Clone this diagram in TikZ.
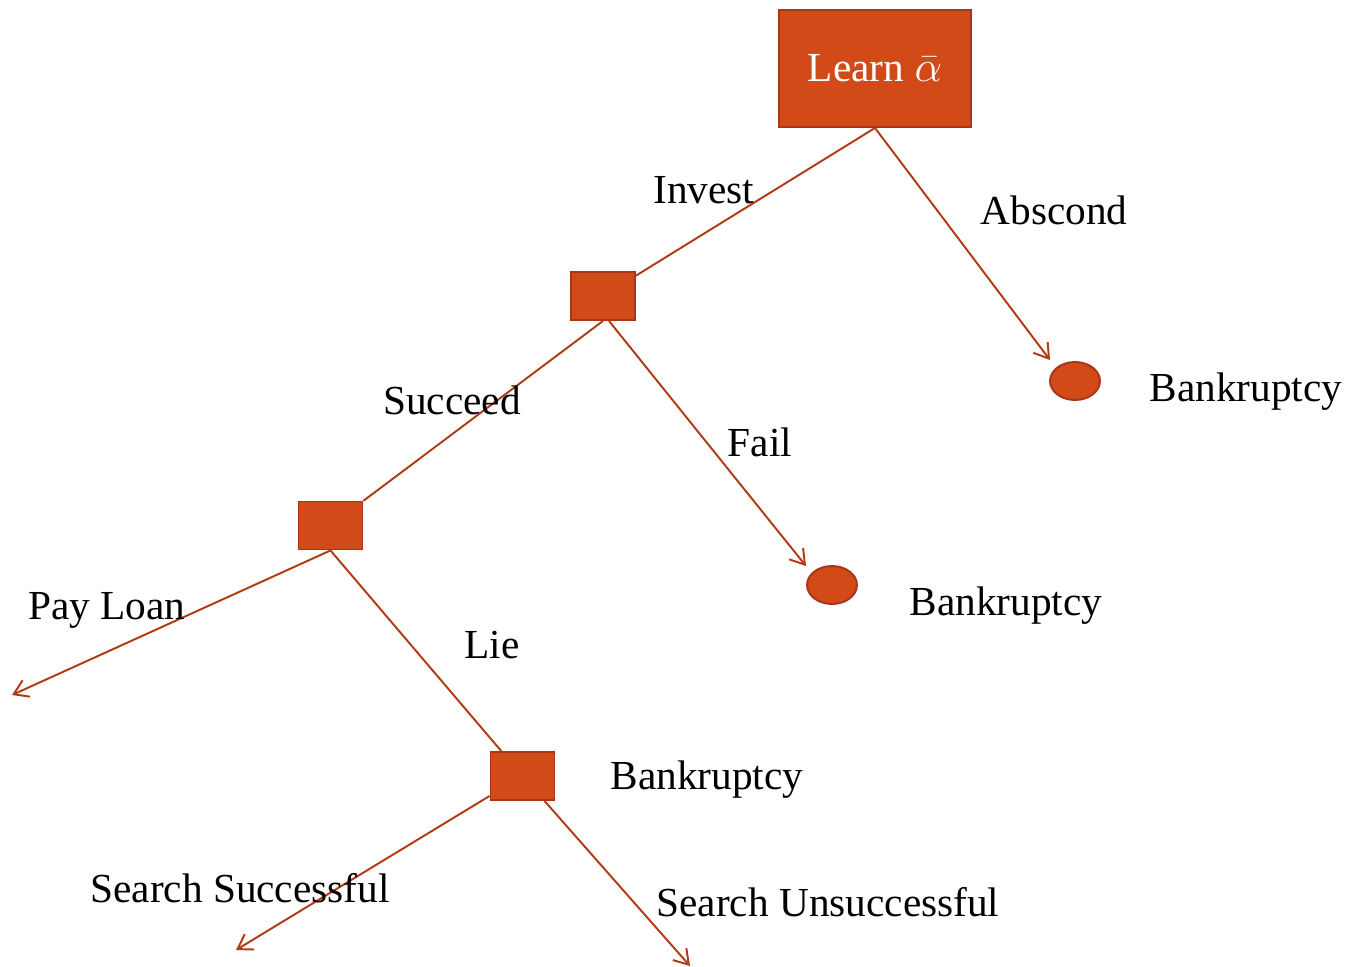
\documentclass[tikz,border=0pt]{standalone}
\usepackage{amsmath,amssymb}
\usepackage{fontspec}
\setmainfont{Liberation Serif}
\usepackage{xcolor}
\usetikzlibrary{arrows.meta,shapes.geometric}
\newlength{\branchwidth}
\setlength{\branchwidth}{1.1pt}
\definecolor{background}{RGB}{255, 255, 255}
\definecolor{boxfill}{HTML}{D24A18}
\definecolor{boxline}{HTML}{A8361A}
\definecolor{branch}{HTML}{B23A12}
\definecolor{mainfont}{HTML}{000000}
\tikzset{
	choice/.style={draw=boxline,fill=boxfill,line width=\branchwidth,minimum width=1.28cm,minimum height=0.96cm,inner sep=0pt},
	outcome/.style={ellipse,draw=boxline,fill=boxfill,line width=\branchwidth,minimum width=1cm,minimum height=0.76cm,inner sep=0pt},
	branchline/.style={draw=branch,line width=\branchwidth},
	branchend/.style={branchline,-{Straight Barb[length=0.28cm,width=0.36cm]}},
	lbl/.style={font=\fontsize{23.5}{28}\selectfont,text=mainfont,inner sep=0pt}
}
\begin{document}
\begin{tikzpicture}[x=0.02cm,y=-0.02cm]
				% Boundary box
				\fill[background] (0,0) rectangle (1350,967);
				\useasboundingbox (0,0) rectangle (1350,967);

				% Decision nodes
				\node[choice,minimum width=3.84cm,minimum height=2.34cm,text=white,font=\fontsize{23.5}{28}\selectfont] (learn) at (875,68.5) {Learn $\bar{\alpha}$};
				\node[choice] (invest) at (603,296) {};
				\node[choice] (succeed) at (330.5,525.5) {};
				\node[choice] (lie) at (522.5,776) {};

				% Terminal nodes
				\node[outcome] (abscondend) at (1075,381) {};
				\node[outcome] (failend) at (832,585) {};

				% Free ends of the open branches
				\coordinate (abscondtip) at (1050,360);
				\coordinate (failtip) at (806,566);
				\coordinate (paytip) at (12,695);
				\coordinate (successtip) at (236,950);
				\coordinate (unsuccesstip) at (690,966);

				% Branches
				\draw[branchline] (learn.south) -- (invest);
				\draw[branchend] (learn.south) -- (abscondtip);
				\draw[branchline] (invest.south) -- (succeed);
				\draw[branchend] ([xshift=0.12cm]invest.south) -- (failtip);
				\draw[branchend] (succeed.south) -- (paytip);
				\draw[branchline] (succeed.south) -- (lie);
				\draw[branchend] (lie) -- (successtip);
				\draw[branchend] (lie) -- (unsuccesstip);

				% Text
				% Branch labels
				\node[lbl] (investlbl) at (704,190) {Invest};
				\node[lbl] (abscondlbl) at (1054,210) {Abscond};
				\node[lbl] (succeedlbl) at (452,400) {Succeed};
				\node[lbl] (faillbl) at (760,442) {Fail};
				\node[lbl] (paylbl) at (107,610) {Pay Loan};
				\node[lbl] (lielbl) at (492,645) {Lie};
				\node[lbl] (successlbl) at (240,888) {Search Successful};
				\node[lbl] (unsuccesslbl) at (828,902) {Search Unsuccessful};

				% Outcome labels
				\node[lbl] (bankruptone) at (1246,392) {Bankruptcy};
				\node[lbl] (bankrupttwo) at (1006,606) {Bankruptcy};
				\node[lbl] (bankruptthree) at (707,780) {Bankruptcy};
			\end{tikzpicture}
\end{document}
